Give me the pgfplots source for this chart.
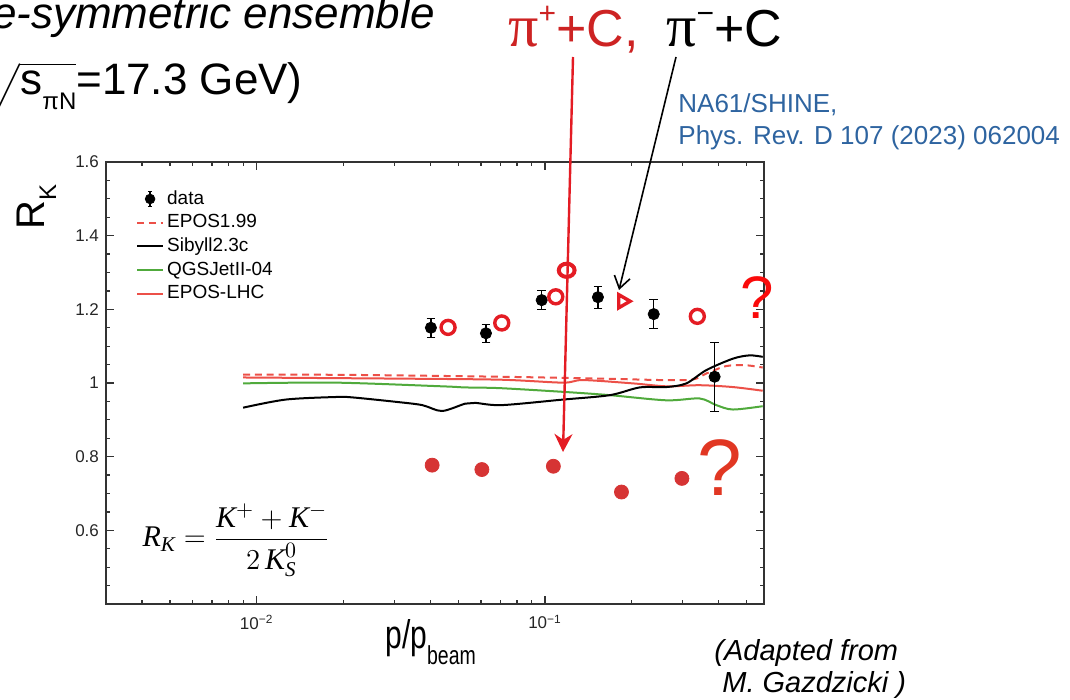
\documentclass[border=0pt]{standalone}
\usepackage{amsmath}
\usepackage{fontspec}
\setmainfont{Liberation Sans}
\newfontfamily\serif{Liberation Serif}
\usepackage{graphicx}
\usepackage{pgfplots}
\pgfplotsset{compat=1.18}
\usetikzlibrary{arrows.meta}
\definecolor{hred}{RGB}{228,28,36}
\definecolor{dotred}{RGB}{214,52,52}
\definecolor{curvered}{RGB}{236,80,72}
\definecolor{qgsgreen}{RGB}{80,170,60}
\definecolor{refblue}{RGB}{46,100,160}
\definecolor{pired}{RGB}{205,35,35}
\definecolor{qred}{RGB}{250,10,10}
\definecolor{q2red}{RGB}{225,55,35}
\newcommand{\ti}[1]{\text{\serif\itshape #1}}
\begin{document}
\begin{tikzpicture}
\useasboundingbox (0,0) rectangle (535pt,-350pt);
\begin{axis}[
  at={(53pt,-302pt)}, anchor=south west,
  scale only axis, width=329pt, height=221pt,
  xmode=log, xmin=0.003, xmax=0.575, ymin=0.4, ymax=1.6,
  xtick={0.01,0.1}, xticklabels={10\textsuperscript{−2},10\textsuperscript{−1}},
  minor xtick={0.004,0.005,0.006,0.007,0.008,0.009,0.02,0.03,0.04,0.05,0.06,0.07,0.08,0.09,0.2,0.3,0.4,0.5},
  ytick={0.4,0.6,0.8,1,1.2,1.4,1.6}, yticklabels={,0.6,0.8,1,1.2,1.4,1.6},
  minor ytick={0.45,0.5,0.55,0.65,0.7,0.75,0.85,0.9,0.95,1.05,1.1,1.15,1.25,1.3,1.35,1.45,1.5,1.55},
  tick align=inside, major tick length=4pt, minor tick length=2.2pt,
  tick style={black!80, line width=0.6pt},
  axis line style={black!80, line width=0.8pt},
  tick label style={font=\fontsize{8.5}{10}\selectfont, black!85},
  xticklabel style={yshift=-2pt},
  /pgf/number format/assume math mode=true,
  clip=false,
  legend cell align=left,
  legend style={at={(rel axis cs:0.045,0.943)}, anchor=north west, draw=none, fill=none,
    font=\fontsize{9.5}{11}\selectfont, row sep=0.6pt, inner sep=0pt,
    nodes={inner sep=1.5pt}},
  legend image code/.code={\draw[#1] (0cm,0cm) -- (0.46cm,0cm);},
]
\addlegendimage{legend image code/.code={
  \draw[black, line width=0.6pt] (0.23cm,-0.13cm) -- (0.23cm,0.13cm);
  \draw[black, line width=0.6pt] (0.19cm,-0.13cm) -- (0.27cm,-0.13cm);
  \draw[black, line width=0.6pt] (0.19cm,0.13cm) -- (0.27cm,0.13cm);
  \fill[black] (0.23cm,0cm) circle (2.4pt);}}
\addlegendentry{data}
\addlegendimage{curvered, line width=1pt, dash pattern=on 3.5pt off 2.4pt}
\addlegendentry{EPOS1.99}
\addlegendimage{black, line width=1pt}
\addlegendentry{Sibyll2.3c}
\addlegendimage{qgsgreen, line width=1pt}
\addlegendentry{QGSJetII-04}
\addlegendimage{curvered, line width=1pt}
\addlegendentry{EPOS-LHC}

% EPOS1.99
\addplot[forget plot, curvered, line width=1pt, dash pattern=on 3.5pt off 2.4pt, smooth] coordinates {
(0.00897,1.023)(0.0213,1.022)(0.0699,1.017)(0.155,1.012)(0.309,1.008)(0.363,1.026)(0.425,1.046)(0.499,1.048)(0.569,1.042)};
% EPOS-LHC
\addplot[forget plot, curvered, line width=1pt, smooth] coordinates {
(0.00897,1.015)(0.03,1.012)(0.0699,1.009)(0.1154,1.001)(0.1353,1.008)(0.2016,0.999)(0.2637,0.991)(0.3438,0.994)(0.4482,0.989)(0.569,0.979)};
% QGSJetII-04
\addplot[forget plot, qgsgreen, line width=1pt, smooth] coordinates {
(0.00897,0.999)(0.01875,1.001)(0.04391,0.991)(0.05285,0.988)(0.0699,0.986)(0.1154,0.976)(0.1679,0.967)(0.2637,0.953)(0.3438,0.958)(0.3927,0.940)(0.4482,0.928)(0.569,0.937)};
% Sibyll2.3c
\addplot[forget plot, black, line width=1pt, smooth] coordinates {
(0.00897,0.933)(0.0126,0.955)(0.0188,0.962)(0.0214,0.961)(0.0303,0.949)(0.0375,0.940)(0.0439,0.924)(0.0529,0.944)(0.0573,0.946)(0.0708,0.940)(0.1154,0.955)(0.1679,0.967)(0.2131,0.988)(0.2637,0.989)(0.3092,0.999)(0.3627,1.035)(0.4482,1.066)(0.512,1.075)(0.569,1.071)};

% data
\addplot[forget plot, only marks, mark=*, mark size=2.8pt, black,
  error bars/.cd, y dir=both, y explicit,
  error bar style={line width=0.6pt, black},
  error mark options={rotate=90, mark size=2.2pt, line width=0.6pt, black}] coordinates {
(0.0402,1.150) +- (0,0.026)
(0.0624,1.135) +- (0,0.024)
(0.0974,1.225) +- (0,0.026)
(0.1526,1.233) +- (0,0.030)
(0.2383,1.187) +- (0,0.040)
(0.3876,1.017) +- (0,0.094)
};

% handwritten open markers
\addplot[forget plot, only marks, mark=o, mark size=3.5pt, hred, mark options={line width=1.7pt}] coordinates {
(0.0461,1.151)(0.0708,1.163)(0.109,1.234)(0.3376,1.181)};
\addplot[forget plot, only marks, mark=triangle, mark size=3.8pt, hred, mark options={line width=1.7pt, rotate=-90}] coordinates {
(0.1858,1.222)};
\addplot[forget plot, only marks, mark=o, mark size=3.3pt, hred, mark options={line width=2pt, xscale=1.2}] coordinates {
(0.1189,1.306)};

% red filled dots
\addplot[forget plot, only marks, mark=*, mark size=3.5pt, dotred] coordinates {
(0.0406,0.777)(0.0604,0.765)(0.1069,0.774)(0.1842,0.704)(0.2985,0.741)};
\end{axis}

\begin{scope}[x=0.5pt,y=-0.5pt]
\node[anchor=base east, inner sep=0pt, font=\fontsize{22}{26}\selectfont\itshape] at (435,29) {e-symmetric ensemble};
\node[anchor=base east, inner sep=0pt, font=\fontsize{22}{26}\selectfont] at (303,95)
  {($\sqrt{\mbox{s\raisebox{-0.32em}{\fontsize{12}{12}\selectfont πN}}}$=17.3 GeV)};
\node[anchor=base west, inner sep=0pt, font=\fontsize{26}{30}\selectfont, text=pired] at (508,47)
  {{\serif\fontsize{30}{30}\selectfont π}\raisebox{0.45em}{\fontsize{15}{15}\selectfont +}+C,};
\node[anchor=base west, inner sep=0pt, font=\fontsize{26}{30}\selectfont] at (666,47)
  {{\serif\fontsize{30}{30}\selectfont π}\raisebox{0.45em}{\fontsize{15}{15}\selectfont −}+C};
\node[anchor=base west, inner sep=0pt, font=\fontsize{13}{16}\selectfont, text=refblue] at (678,113) {NA61/SHINE,};
\node[anchor=base west, inner sep=0pt, font=\fontsize{13}{16}\selectfont, text=refblue] at (678,145) {Phys. Rev. D 107 (2023) 062004};
\draw[hred, line width=1.2pt, -{Stealth[length=9pt,width=9pt]}] (573,57) -- (563,452);
\draw[black, line width=0.8pt, -{Straight Barb[length=6pt,width=8pt]}] (676,57) -- (619,290);
\node[font=\fontsize{30}{32}\selectfont, text=qred, inner sep=0pt] at (757,298) {?};
\node[font=\fontsize{40}{42}\selectfont, text=q2red, inner sep=0pt] at (720,468) {?};
\node[font=\fontsize{15}{17}\selectfont] at (236,540)
  {$\ti{R}_{\ti{K}} = \dfrac{\ti{K}^{+} + \ti{K}^{-}}{2\,\ti{K}^{0}_{\ti{S}}}$};
\node[rotate=90, anchor=base, inner sep=0pt, font=\fontsize{20}{22}\selectfont] at (44,207)
  {R\raisebox{-0.3em}{\fontsize{12}{12}\selectfont K}};
\node[anchor=base west, inner sep=0pt, font=\fontsize{20}{22}\selectfont] at (385,648)
  {\scalebox{0.75}[1]{p/p\raisebox{-0.4em}{\fontsize{13}{13}\selectfont beam}}};
\node[anchor=base west, inner sep=0pt, font=\fontsize{14.5}{16}\selectfont\itshape] at (714,660) {(Adapted from};
\node[anchor=base west, inner sep=0pt, font=\fontsize{14.5}{16}\selectfont\itshape] at (722,692) {M. Gazdzicki )};
\end{scope}
\end{tikzpicture}
\end{document}
